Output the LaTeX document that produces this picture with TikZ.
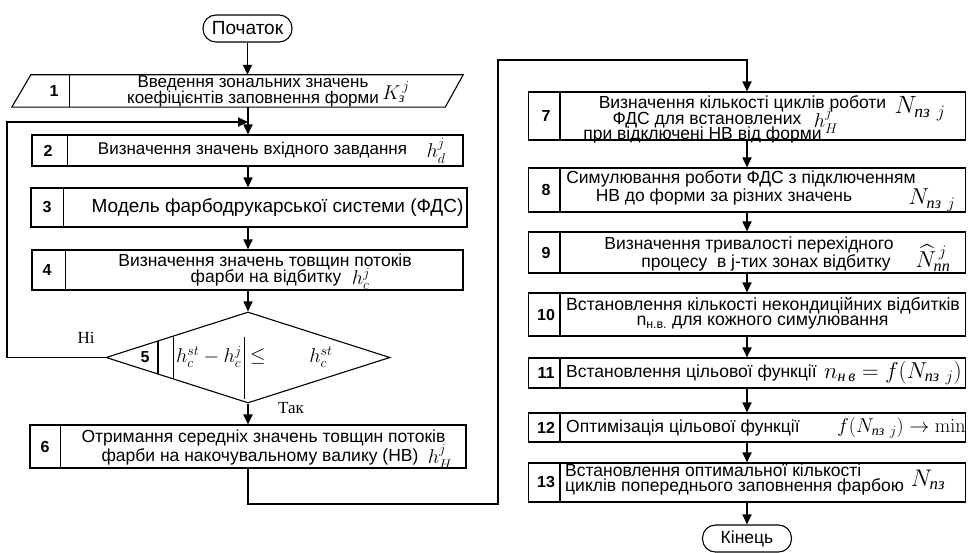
\RequirePackage{fix-cm}
\documentclass[tikz,border=0pt]{standalone}
\usepackage{amsmath}
\usepackage[no-math]{fontspec}
\setmainfont{Liberation Sans}
\newfontfamily\serifcyr{Liberation Serif}
\usetikzlibrary{shapes.geometric,arrows.meta}
\newcommand\fsz[1]{\fontsize{#1}{#1}\selectfont}
\newcommand\cyi[1]{\text{\serifcyr\itshape #1}}
\tikzset{
  blk/.style={draw, line width=1.1pt, rectangle, inner sep=0pt},
  divl/.style={line width=1.1pt},
  term/.style={draw, line width=1.1pt, rounded corners=13pt, minimum width=89pt, minimum height=27pt, inner sep=0pt, font=\fsz{17.5}},
  num/.style={font=\bfseries\fsz{16}},
  txt/.style={font=\fsz{17.5}, inner sep=0pt},
  mth/.style={font=\fsz{20}, inner sep=0pt},
  flow/.style={line width=1.8pt, -{Triangle[length=10pt,width=9pt]}},
  lbl/.style={font=\serifcyr\fsz{17}, inner sep=0pt},
}
\begin{document}
\begin{tikzpicture}[x=1pt,y=-1pt]
\useasboundingbox (0,0) rectangle (972,553);
% ---------- left column ----------
\node[term, font=\fsz{19}] (start) at (247.5,28.5) {Початок};
\coordinate (jn) at (248,122);
% box 1 (parallelogram)
\node[minimum width=451pt, minimum height=32pt, inner sep=0pt] (b1) at (237.5,91) {};
\draw[divl] (b1.south west) -- ([xshift=19pt]b1.north west) -- (b1.north east) -- ([xshift=-18pt]b1.south east) -- cycle;
\draw[divl] ([xshift=58pt]b1.north west) -- ([xshift=58pt]b1.south west);
\node[num] (n1) at (54,91) {1};
\node[txt, font=\fsz{17}] (t1a) at (253,83.5) {Введення зональних значень};
\node[txt, font=\fsz{17}] (t1b) at (253,99) {коефіцієнтів заповнення форми};
\node[mth] (m1) at (396,92) {$K_{\cyi{з}}^{\,j}$};
% box 2
\node[blk, minimum width=431pt, minimum height=31pt] (b2) at (247.5,150.5) {};
\draw[divl] ([xshift=36pt]b2.north west) -- ([xshift=36pt]b2.south west);
\node[num] (n2) at (48,150.5) {2};
\node[txt, font=\fsz{17}] (t2) at (252.5,150.5) {Визначення значень вхідного завдання};
\node[mth] (m2) at (436,151) {$h_d^j$};
% box 3
\node[blk, minimum width=436pt, minimum height=39pt] (b3) at (249,207.5) {};
\draw[divl] ([xshift=33pt]b3.north west) -- ([xshift=33pt]b3.south west);
\node[num] (n3) at (47,207.5) {3};
\node[txt, font=\fsz{19}] (t3) at (277.5,207.5) {Модель фарбодрукарської системи (ФДС)};
% box 4
\node[blk, minimum width=431pt, minimum height=40pt] (b4) at (247.5,270) {};
\draw[divl] ([xshift=34pt]b4.north west) -- ([xshift=34pt]b4.south west);
\node[num] (n4) at (47,270) {4};
\node[txt] (t4a) at (265,262) {Визначення значень товщин потоків};
\node[txt] (t4b) at (266,278) {фарби на відбитку};
\node[mth] (m4) at (361,279) {$h_c^j$};
% decision 5
\node[draw, diamond, line width=1.1pt, minimum width=284pt, minimum height=91pt, inner sep=0pt] (d5) at (248,357.5) {};
\draw[divl] (158,340.8) -- (158,374.2);
\draw[line width=0.9pt] (173,336) -- (173,379);
\draw[line width=0.9pt] (244,337) -- (244,399);
\node[num] (n5) at (145,357.5) {5};
\node[mth] (m5a) at (209,357) {$h_c^{st}-h_c^j$};
\node[mth] (m5b) at (258,357) {$\le$};
\node[mth] (m5c) at (321,357) {$h_c^{st}$};
\node[lbl] (no) at (86,338) {Ні};
\node[lbl] (yes) at (291,408) {Так};
% box 6
\node[blk, minimum width=436pt, minimum height=43pt] (b6) at (248,446.5) {};
\draw[divl] ([xshift=31pt]b6.north west) -- ([xshift=31pt]b6.south west);
\node[num] (n6) at (45,446.5) {6};
\node[txt] (t6a) at (263.5,438) {Отримання середніх значень товщин потоків};
\node[txt] (t6b) at (260,457) {фарби на накочувальному валику (НВ)};
\node[mth] (m6) at (440,457) {$h_H^j$};
% ---------- right column ----------
\node[blk, minimum width=437pt, minimum height=48pt] (b7) at (747,116) {};
\draw[divl] ([xshift=32pt]b7.north west) -- ([xshift=32pt]b7.south west);
\node[num] (n7) at (546,116) {7};
\node[txt] (t7a) at (742.5,104) {Визначення кількості циклів роботи};
\node[txt] (t7b) at (707,120) {ФДС для встановлених};
\node[mth] (m7a) at (826,121) {$h_H^j$};
\node[txt] (t7c) at (702.5,135) {при відключені НВ від форми};
\node[mth, font=\fsz{25}] (m7b) at (920,109) {$N_{\cyi{пз}\ j}$};

\node[blk, minimum width=437pt, minimum height=44pt] (b8) at (747,190) {};
\draw[divl] ([xshift=32pt]b8.north west) -- ([xshift=32pt]b8.south west);
\node[num] (n8) at (546,190) {8};
\node[txt] (t8a) at (741,179) {Симулювання роботи ФДС з підключенням};
\node[txt] (t8b) at (724,197) {НВ до форми за різних значень};
\node[mth, font=\fsz{23}] (m8) at (932,200) {$N_{\cyi{пз}\ j}$};

\node[blk, minimum width=437pt, minimum height=41pt] (b9) at (747,252.5) {};
\draw[divl] ([xshift=32pt]b9.north west) -- ([xshift=32pt]b9.south west);
\node[num] (n9) at (546,252.5) {9};
\node[txt] (t9a) at (749,245) {Визначення тривалості перехідного};
\node[txt] (t9b) at (766,263) {процесу\ \ в j-тих зонах відбитку};
\node[mth, font=\fsz{23}] (m9) at (933,258) {$\widehat{N}_{\cyi{пп}}^{\,j}$};

\node[blk, minimum width=437pt, minimum height=43pt] (b10) at (747,314.5) {};
\draw[divl] ([xshift=32pt]b10.north west) -- ([xshift=32pt]b10.south west);
\node[num] (n10) at (546,314.5) {10};
\node[txt, font=\fsz{17.7}] (t10a) at (763,306) {Встановлення кількості некондиційних відбитків};
\node[txt, font=\fsz{17.7}] (t10b) at (762.5,323) {n\textsubscript{н.в.} для кожного симулювання};

\node[blk, minimum width=437pt, minimum height=30pt] (b11) at (747,373) {};
\draw[divl] ([xshift=32pt]b11.north west) -- ([xshift=32pt]b11.south west);
\node[num] (n11) at (546,373) {11};
\node[txt, anchor=west] (t11) at (566,373) {Встановлення цільової функції};
\node[mth, font=\fsz{23}, anchor=west] (m11) at (824,373) {$n_{\cyi{н\,в}} = f(N_{\cyi{пз}\ j})$};

\node[blk, minimum width=437pt, minimum height=29pt] (b12) at (747,427.5) {};
\draw[divl] ([xshift=32pt]b12.north west) -- ([xshift=32pt]b12.south west);
\node[num] (n12) at (546,427.5) {12};
\node[txt, anchor=west] (t12) at (566,427.5) {Оптимізація цільової функції};
\node[mth, font=\fsz{20}, anchor=west] (m12) at (837,427.5) {$f(N_{\cyi{пз}\ j})\to\min$};

\node[blk, minimum width=437pt, minimum height=39pt] (b13) at (747,482.5) {};
\draw[divl] ([xshift=32pt]b13.north west) -- ([xshift=32pt]b13.south west);
\node[num] (n13) at (546,482.5) {13};
\node[txt, anchor=west] (t13a) at (565,470) {Встановлення оптимальної кількості};
\node[txt, anchor=west] (t13b) at (565,487) {циклів попереднього заповнення фарбою};
\node[mth, font=\fsz{24}] (m13) at (928,480) {$N_{\cyi{пз}}$};

\node[term] (end) at (747,538.5) {Кінець};
% ---------- connectors ----------
\coordinate (lx) at (7,0);
\coordinate (rb) at (498,504);
\coordinate (rt) at (498,60);
\draw[flow] (start.south) -- (b1.north -| start.south);
\draw[flow] (b1.south -| jn) -- (b2.north -| jn);
\draw[flow] (b2.south -| jn) -- (b3.north -| jn);
\draw[flow] (b3.south -| jn) -- (b4.north -| jn);
\draw[flow] (b4.south -| jn) -- (d5.north);
\draw[flow] (d5.south) -- (b6.north -| d5.south);
\draw[flow] (d5.west) -- (d5.west -| lx) -- (jn -| lx) -- (jn);
\draw[flow] (b6.south -| jn) -- (rb -| jn) -- (rb) -- (rt) -- (rt -| b7.north) -- (b7.north);
\draw[flow] (b7.south) -- (b8.north);
\draw[flow] (b8.south) -- (b9.north);
\draw[flow] (b9.south) -- (b10.north);
\draw[flow] (b10.south) -- (b11.north);
\draw[flow] (b11.south) -- (b12.north);
\draw[flow] (b12.south) -- (b13.north);
\draw[flow] (b13.south) -- (end.north);
\end{tikzpicture}
\end{document}
